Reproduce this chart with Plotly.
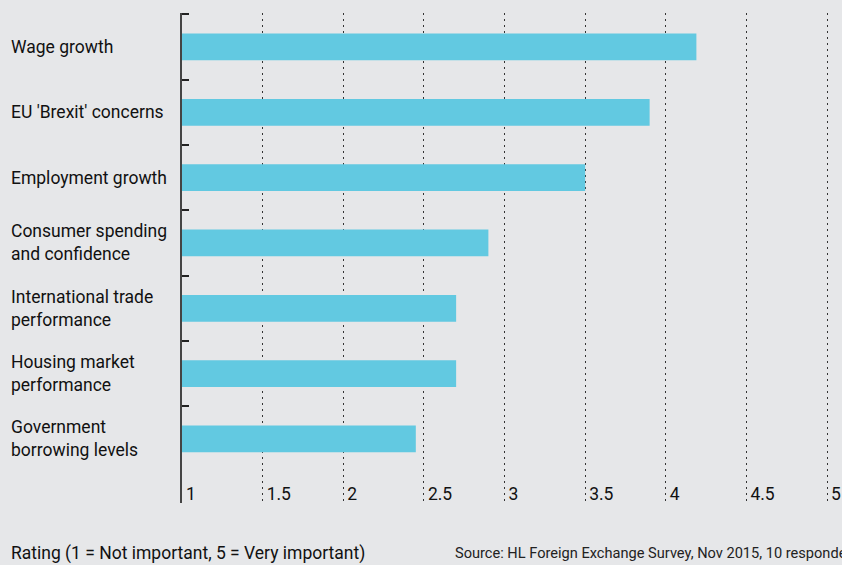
import plotly.graph_objects as go

categories = ["Wage growth", "EU 'Brexit' concerns", "Employment growth",
              "Consumer spending<br>and confidence", "International trade<br>performance",
              "Housing market<br>performance", "Government<br>borrowing levels"]
ratings = [4.19, 3.9, 3.5, 2.9, 2.7, 2.7, 2.45]
x_ticks = [1, 1.5, 2, 2.5, 3, 3.5, 4, 4.5, 5]
x_tick_labels = ["1", "1.5", "2", "2.5", "3", "3.5", "4", "4.5", "5"]

FONT = "Roboto, sans-serif"
BG = "#e6e7e9"

ypos = list(range(len(categories)))
fig = go.Figure()
fig.add_trace(go.Bar(
    y=ypos, x=[r - 1 for r in ratings], base=1, orientation="h",
    marker=dict(color="#62c9e1", line=dict(width=0)), width=0.41,
    hoverinfo="skip", showlegend=False))

annotations = []
for i, c in enumerate(categories):
    annotations.append(dict(text=c, x=0, xref="paper", xshift=-173, y=i, yref="y",
                            xanchor="left", yanchor="middle", align="left",
                            showarrow=False, font=dict(size=17.5, color="#111", family=FONT)))
annotations.append(dict(text="Rating (1 = Not important, 5 = Very important)",
                        x=0, xref="paper", xshift=-173, y=0, yref="paper", yshift=-50,
                        xanchor="left", yanchor="middle", showarrow=False,
                        font=dict(size=17.5, color="#111", family=FONT)))
annotations.append(dict(text="Source: HL Foreign Exchange Survey, Nov 2015, 10 respondents",
                        x=0, xref="paper", xshift=271, y=0, yref="paper", yshift=-50,
                        xanchor="left", yanchor="middle", showarrow=False,
                        font=dict(size=14.6, color="#222", family=FONT)))

fig.update_layout(
    width=842, height=565,
    margin=dict(l=182, r=0, t=13, b=62),
    paper_bgcolor=BG, plot_bgcolor=BG,
    annotations=annotations,
    xaxis=dict(range=[1, 5.093], tickvals=x_ticks, ticktext=x_tick_labels,
               ticklabelposition="inside right", ticklabelstandoff=-6, ticklabelshift=4,
               showgrid=True, gridcolor="#333",
               griddash="1.5px,4.5px", gridwidth=1, zeroline=False, showline=False, ticks="",
               tickfont=dict(size=17.5, color="#111", family=FONT), fixedrange=True),
    yaxis=dict(range=[6.98, -0.52], tickvals=[-0.5, 0.5, 1.5, 2.5, 3.5, 4.5, 5.5],
               showticklabels=False, ticks="inside", ticklen=7, tickcolor="#222",
               tickwidth=1.5, showgrid=False, zeroline=False, showline=True,
               linecolor="#444", linewidth=1.5, fixedrange=True),
)
fig.write_html("out.html")
